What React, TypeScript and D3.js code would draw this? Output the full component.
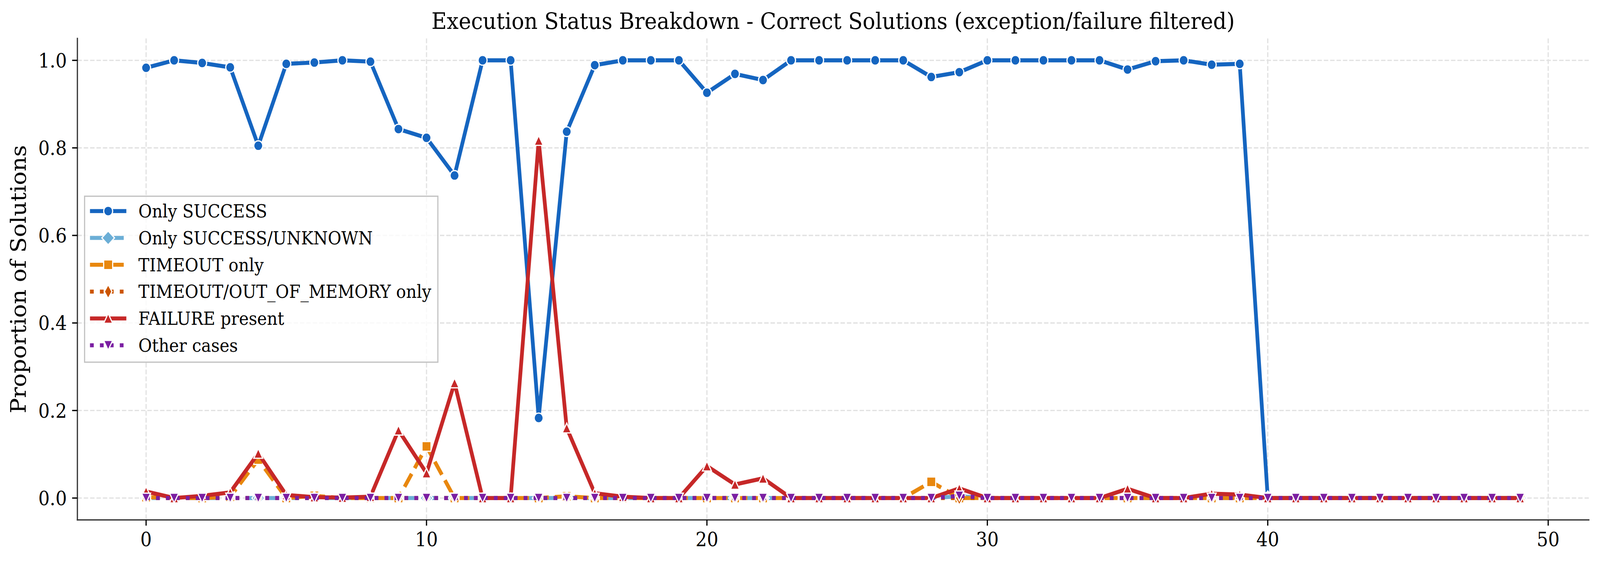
import React, { useRef, useEffect } from "react";
import * as d3 from "d3";

// run index on the x axis
const runs = [
  0, 1, 2, 3, 4, 5, 6, 7, 8, 9, 10, 11, 12, 13, 14, 15, 16, 17, 18, 19, 20, 21, 22, 23, 24,
  25, 26, 27, 28, 29, 30, 31, 32, 33, 34, 35, 36, 37, 38, 39, 40, 41, 42, 43, 44, 45, 46, 47, 48, 49,
];

// proportions per status group
const onlySuccess = [
  0.983, 1.0, 0.994, 0.984, 0.805, 0.992, 0.995, 1.0, 0.997, 0.843, 0.823, 0.737, 1.0, 1.0, 0.183,
  0.837, 0.989, 1.0, 1.0, 1.0, 0.926, 0.969, 0.955, 1.0, 1.0, 1.0, 1.0, 1.0, 0.962, 0.973, 1.0, 1.0,
  1.0, 1.0, 1.0, 0.979, 0.998, 1.0, 0.99, 0.992, 0, 0, 0, 0, 0, 0, 0, 0, 0, 0,
];
const successUnknown = [
  0, 0, 0, 0, 0, 0, 0, 0, 0, 0, 0, 0, 0, 0, 0, 0, 0, 0, 0, 0, 0, 0, 0, 0, 0, 0, 0, 0, 0, 0.004, 0, 0,
  0, 0, 0, 0, 0, 0, 0, 0, 0, 0, 0, 0, 0, 0, 0, 0, 0, 0,
];
const timeoutOnly = [
  0.002, 0, 0, 0.003, 0.088, 0, 0.005, 0, 0, 0, 0.118, 0, 0, 0, 0, 0.004, 0, 0, 0, 0, 0, 0, 0, 0, 0,
  0, 0, 0, 0.037, 0, 0, 0, 0, 0, 0, 0, 0, 0, 0, 0, 0, 0, 0, 0, 0, 0, 0, 0, 0, 0,
];
const timeoutOom = [
  0, 0, 0, 0, 0, 0, 0, 0, 0, 0, 0, 0, 0, 0, 0, 0, 0, 0, 0, 0, 0, 0, 0, 0, 0, 0, 0, 0, 0, 0, 0, 0, 0,
  0, 0, 0, 0, 0, 0, 0, 0, 0, 0, 0, 0, 0, 0, 0, 0, 0,
];
const failurePresent = [
  0.015, 0, 0.005, 0.013, 0.102, 0.007, 0.002, 0.001, 0.003, 0.155, 0.057, 0.263, 0, 0, 0.817, 0.16,
  0.011, 0.003, 0, 0, 0.073, 0.031, 0.045, 0, 0, 0, 0, 0, 0, 0.022, 0, 0, 0, 0, 0, 0.021, 0, 0, 0.01,
  0.008, 0, 0, 0, 0, 0, 0, 0, 0, 0, 0,
];
const otherCases = [
  0, 0, 0, 0, 0, 0, 0, 0, 0, 0, 0, 0, 0, 0, 0, 0, 0, 0, 0, 0, 0, 0, 0, 0, 0, 0, 0, 0, 0, 0.005, 0, 0,
  0, 0, 0, 0, 0, 0, 0, 0, 0, 0, 0, 0, 0, 0, 0, 0, 0, 0,
];

const seriesLabels = [
  "Only SUCCESS",
  "Only SUCCESS/UNKNOWN",
  "TIMEOUT only",
  "TIMEOUT/OUT_OF_MEMORY only",
  "FAILURE present",
  "Other cases",
];
const xTicks = [0, 10, 20, 30, 40, 50];
const yTicks = [0.0, 0.2, 0.4, 0.6, 0.8, 1.0];

const titleText = "Execution Status Breakdown - Correct Solutions (exception/failure filtered)";
const yLabelText = "Proportion of Solutions";

// figure is 300 dpi -> 1pt = 300/72 px
const PT = 300 / 72;
const LW = 2.5 * PT;
const MS = 6 * PT;
const FONT = "'DejaVu Serif', 'Liberation Serif', serif";

const dashFor = (style: string) => {
  if (style === "--") return [3.7 * LW, 1.6 * LW].join(",");
  if (style === "-.") return [6.4 * LW, 1.6 * LW, 1 * LW, 1.6 * LW].join(",");
  if (style === ":") return [1 * LW, 1.65 * LW].join(",");
  return null;
};

const seriesStyles = [
  { color: "#1565C0", line: "-", marker: "o" },
  { color: "#6BAED6", line: "--", marker: "D" },
  { color: "#E8870E", line: "--", marker: "s" },
  { color: "#CC5500", line: ":", marker: "d" },
  { color: "#C62828", line: "-", marker: "^" },
  { color: "#7B1FA2", line: ":", marker: "v" },
];

// matplotlib-like marker outlines, centred on 0,0
const markerPath = (m: string, s: number) => {
  const h = s / 2;
  const p = d3.path();
  const dd = s * Math.SQRT1_2;
  switch (m) {
    case "o":
      p.moveTo(h, 0);
      p.arc(0, 0, h, 0, 2 * Math.PI);
      break;
    case "s":
      p.rect(-h, -h, s, s);
      break;
    case "^":
      p.moveTo(0, -h);
      p.lineTo(-h, h);
      p.lineTo(h, h);
      p.closePath();
      break;
    case "v":
      p.moveTo(0, h);
      p.lineTo(-h, -h);
      p.lineTo(h, -h);
      p.closePath();
      break;
    case "D":
      p.moveTo(0, -dd);
      p.lineTo(dd, 0);
      p.lineTo(0, dd);
      p.lineTo(-dd, 0);
      p.closePath();
      break;
    case "d":
      p.moveTo(0, -dd);
      p.lineTo(dd * 0.6, 0);
      p.lineTo(0, dd);
      p.lineTo(-dd * 0.6, 0);
      p.closePath();
      break;
  }
  return p.toString();
};

const W = 4445;
const H = 1442;
const margin = { left: 215, right: 31, top: 98.5, bottom: 110.3 };

const StatusChart = () => {
  const ref = useRef<SVGSVGElement | null>(null);

  useEffect(() => {
    if (!ref.current) return;
    const svg = d3.select(ref.current);
    svg.selectAll("*").remove();

    const allSeries = [onlySuccess, successUnknown, timeoutOnly, timeoutOom, failurePresent, otherCases];

    // autoscale with 5% margins like matplotlib
    const [xMin, xMax] = d3.extent(runs) as [number, number];
    const xPad = (xMax - xMin) * 0.05;
    const yMax = d3.max(allSeries.flat()) as number;
    const yMin = d3.min(allSeries.flat()) as number;
    const yPad = (yMax - yMin) * 0.05;

    const x = d3
      .scaleLinear()
      .domain([xMin - xPad, xMax + xPad])
      .range([margin.left, W - margin.right]);
    const y = d3
      .scaleLinear()
      .domain([yMin - yPad, yMax + yPad])
      .range([H - margin.bottom, margin.top]);

    svg.append("rect").attr("width", W).attr("height", H).attr("fill", "#fff");

    // grid
    const gridDash = `${3.7 * 0.8 * PT},${1.6 * 0.8 * PT}`;
    const grid = svg.append("g");
    grid
      .selectAll("line.vx")
      .data(xTicks)
      .enter()
      .append("line")
      .attr("x1", (d) => x(d))
      .attr("x2", (d) => x(d))
      .attr("y1", margin.top)
      .attr("y2", H - margin.bottom)
      .attr("stroke", "#e2e2e2")
      .attr("stroke-width", 0.8 * PT)
      .attr("stroke-dasharray", gridDash);
    grid
      .selectAll("line.hy")
      .data(yTicks)
      .enter()
      .append("line")
      .attr("x1", margin.left)
      .attr("x2", W - margin.right)
      .attr("y1", (d) => y(d))
      .attr("y2", (d) => y(d))
      .attr("stroke", "#e2e2e2")
      .attr("stroke-width", 0.8 * PT)
      .attr("stroke-dasharray", gridDash);

    // series: line then markers, in plot order
    const plotArea = svg.append("g");
    allSeries.forEach((vals, si) => {
      const st = seriesStyles[si];
      const pts = runs.map((r, i) => [r, vals[i]] as [number, number]);
      const line = d3
        .line<[number, number]>()
        .x((d) => x(d[0]))
        .y((d) => y(d[1]));
      const g = plotArea.append("g");
      const path = g
        .append("path")
        .attr("d", line(pts) as string)
        .attr("fill", "none")
        .attr("stroke", st.color)
        .attr("stroke-width", LW)
        .attr("stroke-linejoin", "round")
        .attr("stroke-linecap", "butt");
      const da = dashFor(st.line);
      if (da) path.attr("stroke-dasharray", da);

      g.selectAll("path.mk")
        .data(pts)
        .enter()
        .append("path")
        .attr("class", "mk")
        .attr("d", markerPath(st.marker, MS))
        .attr("transform", (d) => `translate(${x(d[0])},${y(d[1])})`)
        .attr("fill", st.color)
        .attr("stroke", "#fff")
        .attr("stroke-width", 0.75 * PT);
    });

    // spines (left + bottom only)
    svg
      .append("line")
      .attr("x1", margin.left)
      .attr("x2", margin.left)
      .attr("y1", margin.top)
      .attr("y2", H - margin.bottom)
      .attr("stroke", "#333")
      .attr("stroke-width", 0.8 * PT)
      .attr("stroke-linecap", "square");
    svg
      .append("line")
      .attr("x1", margin.left)
      .attr("x2", W - margin.right)
      .attr("y1", H - margin.bottom)
      .attr("y2", H - margin.bottom)
      .attr("stroke", "#333")
      .attr("stroke-width", 0.8 * PT)
      .attr("stroke-linecap", "square");

    // ticks + labels
    const tickLen = 3.5 * PT;
    const tickPad = 3.5 * PT;
    const tickFs = 12 * PT;
    const xt = svg.append("g");
    xt.selectAll("line")
      .data(xTicks)
      .enter()
      .append("line")
      .attr("x1", (d) => x(d))
      .attr("x2", (d) => x(d))
      .attr("y1", H - margin.bottom)
      .attr("y2", H - margin.bottom + tickLen)
      .attr("stroke", "#000")
      .attr("stroke-width", 0.8 * PT);
    xt.selectAll("text")
      .data(xTicks)
      .enter()
      .append("text")
      .attr("x", (d) => x(d))
      .attr("y", H - margin.bottom + tickLen + tickPad + tickFs * 0.76)
      .attr("text-anchor", "middle")
      .style("font-family", FONT)
      .style("font-size", `${tickFs}px`)
      .attr("fill", "#000")
      .text((d) => `${d}`);

    const yt = svg.append("g");
    yt.selectAll("line")
      .data(yTicks)
      .enter()
      .append("line")
      .attr("x1", margin.left)
      .attr("x2", margin.left - tickLen)
      .attr("y1", (d) => y(d))
      .attr("y2", (d) => y(d))
      .attr("stroke", "#000")
      .attr("stroke-width", 0.8 * PT);
    yt.selectAll("text")
      .data(yTicks)
      .enter()
      .append("text")
      .attr("x", margin.left - tickLen - tickPad)
      .attr("y", (d) => y(d) + tickFs * 0.365)
      .attr("text-anchor", "end")
      .style("font-family", FONT)
      .style("font-size", `${tickFs}px`)
      .attr("fill", "#000")
      .text((d) => d3.format(".1f")(d));

    // title + y label
    const labelFs = 14 * PT;
    svg
      .append("text")
      .attr("x", (margin.left + W - margin.right) / 2)
      .attr("y", 74)
      .attr("text-anchor", "middle")
      .style("font-family", FONT)
      .style("font-size", `${labelFs}px`)
      .attr("fill", "#000")
      .text(titleText);
    svg
      .append("text")
      .attr("transform", `translate(72, ${(margin.top + H - margin.bottom) / 2}) rotate(-90)`)
      .attr("text-anchor", "middle")
      .style("font-family", FONT)
      .style("font-size", `${labelFs}px`)
      .attr("fill", "#000")
      .text(yLabelText);

    // legend (center left)
    const legFs = 11 * PT;
    const rowStep = legFs * 1.5;
    const boxPad = 0.4 * legFs;
    const boxH = seriesLabels.length * rowStep + 12.5;
    const boxX = margin.left + 20;
    const boxY = (margin.top + H - margin.bottom) / 2 - boxH / 2;
    const handleX0 = boxX + 15;
    const handleX1 = handleX0 + 101;
    const textX = handleX1 + 33.5;

    const leg = svg.append("g");
    const frame = leg
      .append("rect")
      .attr("x", boxX)
      .attr("y", boxY)
      .attr("height", boxH)
      .attr("fill", "rgba(255,255,255,0.8)")
      .attr("stroke", "#c4c4c4")
      .attr("stroke-width", 0.8 * PT);

    let maxW = 0;
    seriesLabels.forEach((lab, i) => {
      const st = seriesStyles[i];
      const cy = boxY + 38 + i * rowStep;
      const hl = leg
        .append("line")
        .attr("x1", handleX0)
        .attr("x2", handleX1)
        .attr("y1", cy)
        .attr("y2", cy)
        .attr("stroke", st.color)
        .attr("stroke-width", LW)
        .attr("stroke-linecap", "butt");
      const da = dashFor(st.line);
      if (da) hl.attr("stroke-dasharray", da);
      leg
        .append("path")
        .attr("d", markerPath(st.marker, MS))
        .attr("transform", `translate(${(handleX0 + handleX1) / 2},${cy})`)
        .attr("fill", st.color)
        .attr("stroke", "#fff")
        .attr("stroke-width", 0.75 * PT);
      const t = leg
        .append("text")
        .attr("x", textX)
        .attr("y", cy + legFs * 0.36)
        .style("font-family", FONT)
        .style("font-size", `${legFs}px`)
        .attr("fill", "#000")
        .text(lab);
      const w = (t.node() as SVGTextElement).getComputedTextLength();
      if (w > maxW) maxW = w;
    });
    frame.attr("width", textX + maxW + boxPad - boxX);
  }, []);

  // stretch to the whole viewport so the figure keeps the reference proportions
  return (
    <svg
      ref={ref}
      viewBox={`0 0 ${W} ${H}`}
      preserveAspectRatio="none"
      style={{ display: "block", position: "absolute", left: 0, top: 0, width: "100vw", height: "100vh" }}
    ></svg>
  );
};

export default function App() {
  return (
    <div>
      <style>{`html,body{margin:0;padding:0;overflow:hidden;background:#fff;}`}</style>
      <StatusChart />
    </div>
  );
}
